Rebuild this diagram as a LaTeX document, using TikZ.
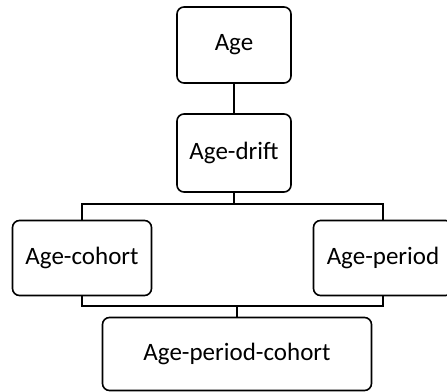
\documentclass[tikz,border=0pt]{standalone}
\usepackage{fontspec}
\setmainfont{Carlito}

\begin{document}
\begin{tikzpicture}[
        x=1pt, y=-1pt,
        every path/.style={line width=1.6pt},
        model/.style={draw, rounded corners=7pt, align=center, inner sep=0pt,
            font=\fontsize{25}{30}\selectfont}
    ]
        \useasboundingbox (0,0) rectangle (447,391);

        \node[model, minimum width=114pt, minimum height=76pt] (age) at (234,45) {Age};
        \node[model, minimum width=114pt, minimum height=78pt] (drift) at (234,153) {Age-drift};
        \node[model, minimum width=139pt, minimum height=75pt] (cohort) at (82,258) {Age-cohort};
        \node[model, minimum width=139pt, minimum height=75pt] (period) at (383,258) {Age-period};
        \node[model, minimum width=269pt, minimum height=73pt] (apc) at (237,354) {Age-period-cohort};

        \coordinate (split) at (234,204);
        \coordinate (join) at (237,306);

        \draw (age) -- (drift);
        \draw (drift) -- (split);
        \draw (cohort.north) |- (split) -| (period.north);
        \draw (cohort.south) |- (join) -| (period.south);
        \draw (join) -- (apc.north);
    \end{tikzpicture}
\end{document}
